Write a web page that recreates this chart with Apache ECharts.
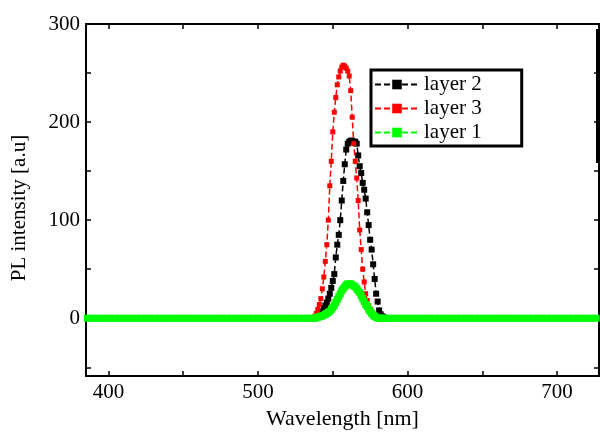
<!DOCTYPE html>
<html>
<head>
<meta charset="utf-8">
<script src="https://cdn.jsdelivr.net/npm/echarts@6/dist/echarts.min.js"></script>
<style>
  html, body { margin: 0; padding: 0; background: #fff; }
  #chart { width: 600px; height: 435px; }
</style>
</head>
<body>
<div id="chart"></div>
<script>
// wavelengths (nm) of the flat baseline, left and right of the peak
var baseLeft = [386, 389, 392, 395, 398, 401, 404, 407, 410, 413, 416, 419, 422, 425, 428, 431, 434, 437, 440, 443,
    446, 449, 452, 455, 458, 461, 464, 467, 470, 473, 476, 479, 482, 485, 488, 491, 494, 497, 500, 503,
    506, 509, 512, 515, 518, 521, 524, 527, 530, 533, 536];
var baseRight = [588, 591, 594, 597, 600, 603, 606, 609, 612, 615, 618, 621, 624, 627, 630, 633, 636, 639, 642, 645,
    648, 651, 654, 657, 660, 663, 666, 669, 672, 675, 678, 681, 684, 687, 690, 693, 696, 699, 702, 705,
    708, 711, 714, 717, 720, 723, 726, 729];
// peak region, 1 nm steps
var peakWl = [538, 539, 540, 541, 542, 543, 544, 545, 546, 547, 548, 549, 550, 551, 552, 553, 554, 555, 556, 557,
    558, 559, 560, 561, 562, 563, 564, 565, 566, 567, 568, 569, 570, 571, 572, 573, 574, 575, 576, 577,
    578, 579, 580, 581, 582, 583, 584, 585];
var layer2 = [0, 1, 2, 3, 5, 7, 10, 13, 16, 20, 25, 31, 38, 45, 62, 75, 85, 100, 120, 140,
    157, 172, 178, 180, 181, 181, 180, 180, 178, 166, 155, 148, 138, 131, 122, 108, 95, 80, 70, 55,
    40, 25, 17, 8, 4, 2, 1, 0];
var layer3 = [2, 5, 9, 14, 20, 30, 42, 58, 75, 100, 135, 160, 190, 210, 225, 238, 246, 252, 256, 258,
    257, 255, 252, 247, 232, 205, 178, 160, 143, 120, 90, 70, 50, 37, 25, 18, 13, 9, 6, 4,
    2, 1, 0, 0, 0, 0, 0, 0];
var layer1 = [0, 0.5, 1, 1.5, 2, 2.5, 3, 4, 5, 6, 7, 9, 11, 13, 16, 19, 22, 25, 28, 30,
    32, 34, 35, 35, 35, 34, 33, 32, 30, 28, 26, 23, 20, 17, 14, 12, 9, 7, 5, 3,
    2, 1, 0.5, 0, 0, 0, 0, 0];
var baseValue = 0;
var xTicks = [400, 450, 500, 550, 600, 650, 700];
var xLabels = [400, 500, 600, 700];
var yTicks = [-50, 0, 50, 100, 150, 200, 250, 300];
var yLabels = [0, 100, 200, 300];

function buildSeries(values) {
    var out = [];
    baseLeft.forEach(function(w) { out.push([w, baseValue]); });
    peakWl.forEach(function(w, i) { out.push([w, values[i]]); });
    baseRight.forEach(function(w) { out.push([w, baseValue]); });
    return out;
}

var FONT = 'Liberation Serif';
var chart = echarts.init(document.getElementById('chart'));

function xAxisDef(pos, show) {
    return {
        type: 'value', position: pos, min: 385, max: 728,
        name: show ? 'Wavelength [nm]' : '',
        nameLocation: 'middle', nameGap: 30,
        nameTextStyle: { fontFamily: FONT, fontSize: 22, color: '#000' },
        axisLine: { show: true, onZero: false, lineStyle: { color: '#000', width: 2 } },
        axisTick: { show: true, inside: true, length: 5, customValues: xTicks, lineStyle: { color: '#000', width: 1.5 } },
        axisLabel: { show: show, customValues: xLabels, fontFamily: FONT, fontSize: 21, color: '#000', margin: 6 },
        splitLine: { show: false }
    };
}
function yAxisDef(pos, show) {
    return {
        type: 'value', position: pos, min: -59, max: 300,
        name: show ? 'PL intensity [a.u]' : '',
        nameLocation: 'middle', nameGap: 56,
        nameTextStyle: { fontFamily: FONT, fontSize: 21, color: '#000', padding: [0, 16, 0, 0] },
        axisLine: { show: true, onZero: false, lineStyle: { color: '#000', width: 2 } },
        axisTick: { show: true, inside: true, length: 5, customValues: yTicks, lineStyle: { color: '#000', width: 1.5 } },
        axisLabel: { show: show, customValues: yLabels, fontFamily: FONT, fontSize: 21, color: '#000', margin: 6 },
        splitLine: { show: false }
    };
}

function lineSeries(name, color, values, size, width) {
    return {
        name: name,
        type: 'line',
        data: buildSeries(values),
        symbol: 'rect',
        symbolSize: size,
        showAllSymbol: true,
        animation: false,
        itemStyle: { color: color },
        lineStyle: { color: color, width: width, type: [6, 3] }
    };
}

var option = {
    backgroundColor: '#fff',
    animation: false,
    grid: { left: 86, top: 24, right: 1, bottom: 49, containLabel: false },
    xAxis: [xAxisDef('bottom', true), xAxisDef('top', false)],
    yAxis: [yAxisDef('left', true), yAxisDef('right', false)],
    legend: {
        data: ['layer 2', 'layer 3', 'layer 1'],
        orient: 'vertical',
        left: 371, top: 70,
        itemWidth: 44, itemHeight: 12, itemGap: 3,
        padding: [4, 40, 3, 3],
        backgroundColor: '#fff',
        borderColor: '#000', borderWidth: 3,
        textStyle: { fontFamily: FONT, fontSize: 21, color: '#000' }
    },
    graphic: [{
        type: 'rect', left: 596, top: 29,
        shape: { width: 3, height: 134 },
        style: { fill: '#000' }
    }],
    series: [
        lineSeries('layer 2', '#000000', layer2, 6, 1.5),
        lineSeries('layer 3', '#ff0000', layer3, 5, 1.5),
        lineSeries('layer 1', '#00ff00', layer1, 7, 2)
    ]
};
chart.setOption(option);
</script>
</body>
</html>
